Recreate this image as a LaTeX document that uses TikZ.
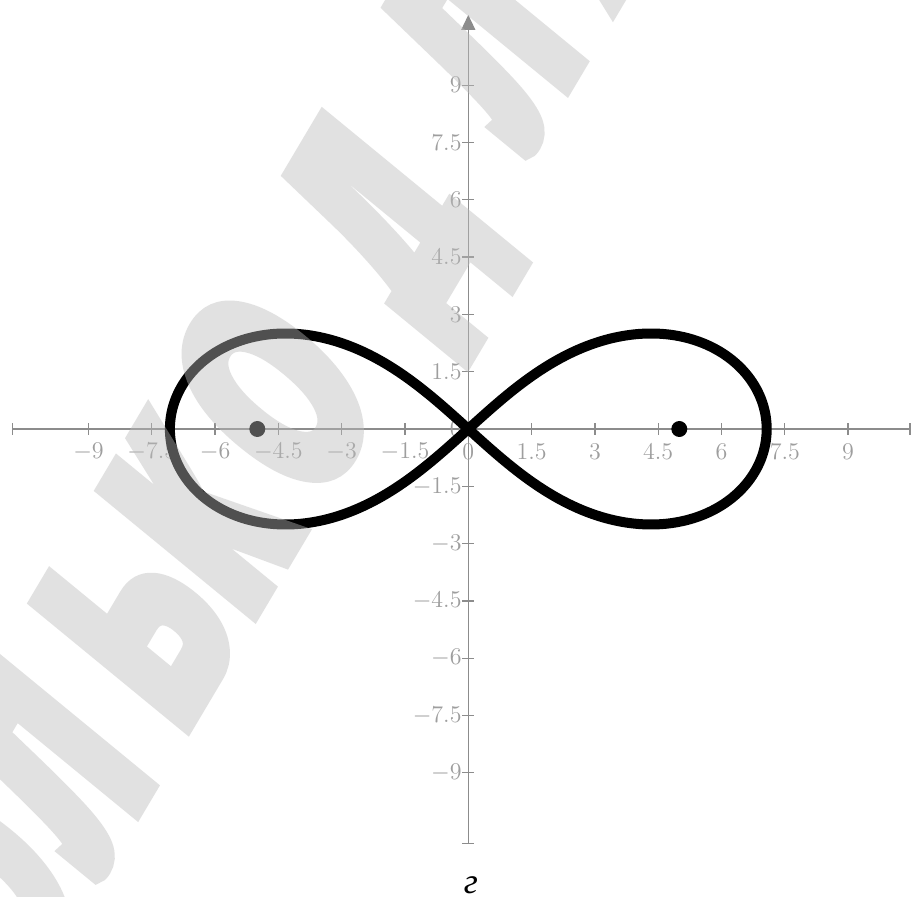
\documentclass[tikz,border=0pt]{standalone}
\usepackage{fontspec}
\usetikzlibrary{arrows.meta}
\newfontfamily\wmfont{Liberation Sans Bold}[FakeStretch=0.567, FakeBold=7.7]
\newfontfamily\capfont{Liberation Serif}
\definecolor{axgray}{RGB}{140,140,140}
\definecolor{labgray}{RGB}{158,158,158}
\definecolor{wmgray}{RGB}{187,187,187}
\tikzset{
  axisline/.style={draw=axgray, line width=0.65pt},
  tickmark/.style={draw=axgray, line width=0.65pt},
  ticklab/.style={text=labgray, inner sep=0pt, font=\fontsize{11.7}{13}\selectfont},
  lemcurve/.style={draw=black, line width=5pt, line join=round},
  focusdot/.style={circle, fill=black, inner sep=0pt, minimum size=8pt},
  wmletter/.style={cm={0.5105,0.8600,-0.7727,0.6347,(0,0)}, transform shape,
     anchor=base west, inner sep=0pt, outer sep=0pt, text=wmgray,
     font=\wmfont\fontsize{137}{137}\selectfont},
  caplab/.style={inner sep=0pt, font=\capfont\itshape\fontsize{18}{20}\selectfont}
}
\begin{document}
\begin{tikzpicture}[x=0.5pt, y=-0.5pt]
\useasboundingbox (0,0) rectangle (912,897);
\fill[white] (0,0) rectangle (912,897);
\begin{scope}[shift={(468.3,429)}, x=21.1pt, y=19.1pt]
  % axes
  \draw[axisline] (-10.8,0) -- (10.47,0);
  \draw[axisline, -{Triangle[length=7.5pt, width=7pt]}] (0,-10.85) -- (0,10.84);
  \draw[tickmark] (-10.8,0) ++(0,-3pt) -- ++(0,6pt);
  \draw[tickmark] (10.47,0) ++(0,-3pt) -- ++(0,6pt);
  \draw[tickmark] (0,-10.85) ++(-3pt,0) -- ++(6pt,0);
  \foreach \v in {-9,-7.5,-6,-4.5,-3,-1.5,1.5,3,4.5,6,7.5,9} {
    \draw[tickmark] (\v,0) ++(0,-3pt) -- ++(0,6pt);
    \draw[tickmark] (0,\v) ++(-3pt,0) -- ++(6pt,0);
  }
  % labels
  \foreach \v [count=\i] in {-9,-7.5,-6,-4.5,-3,-1.5,0,1.5,3,4.5,6,7.5,9} {
    \node[ticklab, yshift=-11.3pt] (xl\i) at (\v,0) {$\v$};
    \node[ticklab, anchor=east, xshift=-3.2pt] (yl\i) at (0,\v) {$\v$};
  }
  % lemniscate
  \draw[lemcurve] plot[variable=\t, domain=0:360, samples=361, smooth]
     ({7.0711*cos(\t)/(1+sin(\t)^2)}, {7.0711*sin(\t)*cos(\t)/(1+sin(\t)^2)}) -- cycle;
  \node[focusdot] (F1) at (-5,0) {};
  \node[focusdot] (F2) at (5,0) {};
\end{scope}
% watermark
\begin{scope}[transparency group, opacity=0.43]
  \foreach \u/\L [count=\k] in {-285/О, -139/Л, 27/Ь, 158/К, 290/О, 500/Д, 703/Л, 870/Я} {
    \begin{scope}[shift={(167+0.5105*\u, 753-0.86*\u)}]
      \node[wmletter] (wm\k) at (0,0) {\L};
    \end{scope}
  }
\end{scope}
\node[caplab] (cap) at (471,885) {г};
\end{tikzpicture}
\end{document}
